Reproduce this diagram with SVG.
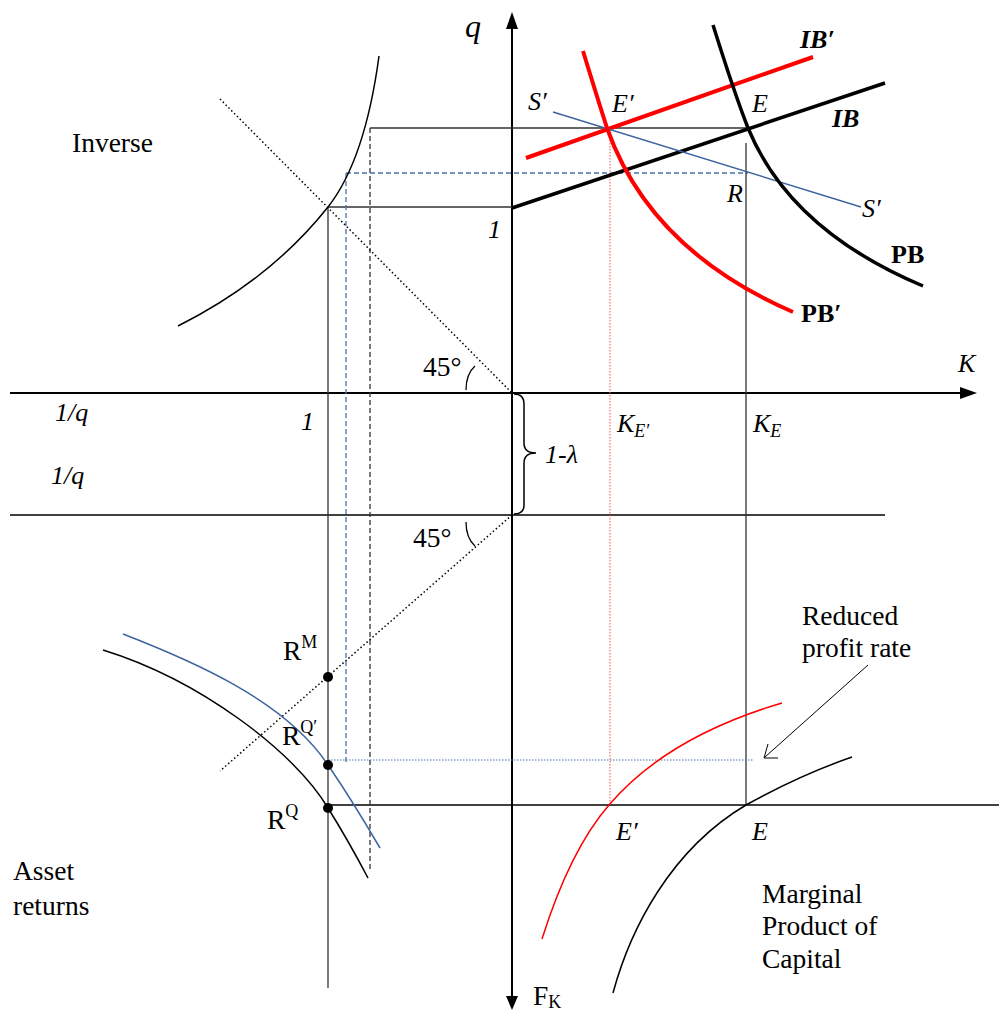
<svg xmlns="http://www.w3.org/2000/svg" width="999" height="1011" viewBox="0 0 999 1011">
<style>
text{font-family:"Liberation Serif","Times New Roman",serif;font-size:27.5px;fill:#000}
.it{font-style:italic;font-size:26px}
.bd{font-weight:bold;font-size:26px}
.sub{font-size:18px}
.axis{stroke:#000;stroke-width:2;fill:none}
.thin{stroke:#333;stroke-width:1.3;fill:none}
.dash{stroke:#333;stroke-width:1.3;stroke-dasharray:5,3;fill:none}
.bdash{stroke:#4a70a8;stroke-width:1.3;stroke-dasharray:5,3;fill:none}
.bdot{stroke:#4a70a8;stroke-width:1;stroke-dasharray:1.5,1.5;fill:none}
.rdot{stroke:#f05050;stroke-width:1;stroke-dasharray:1.5,1.5;fill:none}
.kdot{stroke:#000;stroke-width:1.5;stroke-dasharray:1.5,2.5;fill:none}
.curve{stroke:#000;stroke-width:1.5;fill:none}
</style>
<rect width="999" height="1011" fill="#fff"/>
<g id="connectors">
  <line class="axis" x1="512" y1="26" x2="512" y2="998"/>
  <polygon points="512,12 506,29 518,29" fill="#000"/>
  <polygon points="512,1010 506,996 518,996" fill="#000"/>
  <line class="axis" x1="10" y1="393" x2="962" y2="393"/>
  <polygon points="977,393 960,387 960,399" fill="#000"/>
  <line class="axis" x1="10" y1="515" x2="885" y2="515" style="stroke-width:1.5"/>
  <line class="axis" x1="328" y1="805" x2="999" y2="805" style="stroke-width:1.5"/>
  <line class="thin" x1="328" y1="207" x2="328" y2="988"/>
  <line class="thin" x1="328" y1="207" x2="512" y2="207"/>
  <line class="thin" x1="370" y1="128" x2="748" y2="128"/>
  <line class="dash" x1="370" y1="128" x2="370" y2="870"/>
  <line class="bdash" x1="346" y1="173" x2="346" y2="765"/>
  <line class="bdash" x1="346" y1="173" x2="748" y2="173"/>
  <line class="thin" x1="746" y1="143" x2="746" y2="805"/>
  <line class="rdot" x1="610" y1="128" x2="610" y2="805"/>
  <line class="bdot" x1="328" y1="760" x2="753" y2="760"/>
  <line class="kdot" x1="220" y1="99" x2="512" y2="393"/>
  <line class="kdot" x1="512" y1="515" x2="220" y2="771"/>
  <path class="thin" d="M466,390 Q466,374 475,366" style="stroke:#000"/>
  <path class="thin" d="M466,522 Q466,538 475,546" style="stroke:#000"/>
  <path d="M514,394 Q524,394 524,404 L524,443 Q524,453 536,453 Q524,453 524,463 L524,505 Q524,514 514,514" fill="none" stroke="#000" stroke-width="1.5"/>
  <line x1="512" y1="208" x2="885" y2="83" stroke="#000" stroke-width="3.5"/>
  <line x1="526" y1="158" x2="813" y2="57" stroke="#ff0000" stroke-width="4"/>
  <line x1="553" y1="112" x2="861" y2="207" stroke="#3e659e" stroke-width="1.5"/>
  <path d="M713,25 Q735,95 748,128 Q790,230 923,286" fill="none" stroke="#000" stroke-width="3.5"/>
  <path d="M583,51 Q598,100 607,128 Q650,250 793,312" fill="none" stroke="#ff0000" stroke-width="4"/>
  <path class="curve" d="M379,56 Q365,160 328,207 Q270,280 178,326"/>
  <path d="M123,634 C190,660 285,700 328,765 Q352,800 380,848" fill="none" stroke="#3e659e" stroke-width="1.5"/>
  <path class="curve" d="M103,650 C200,680 295,752 328,808 Q348,840 368,878"/>
  <path d="M542,939 Q570,850 609,805 Q667,737 782,703" fill="none" stroke="#ff0000" stroke-width="1.5"/>
  <path class="curve" d="M613,993 C630,930 670,850 746,805 Q800,775 852,757"/>
  <line x1="868" y1="665" x2="765" y2="757" stroke="#000" stroke-width="1"/>
  <polyline points="768,744 764,758 778,758" fill="none" stroke="#000" stroke-width="1"/>
</g>
<g id="points">
  <circle cx="328" cy="677" r="5" fill="#000"/>
  <circle cx="328" cy="765" r="5" fill="#000"/>
  <circle cx="328" cy="808" r="5" fill="#000"/>
</g>
<g id="labels">
  <text class="it" x="465" y="37" style="font-size:32px">q</text>
  <text class="it bd" x="800" y="48">IB′</text>
  <text class="it bd" x="832" y="127">IB</text>
  <text class="it" x="752" y="112">E</text>
  <text class="it" x="612" y="112">E′</text>
  <text class="it" x="528" y="110">S′</text>
  <text class="it" x="862" y="217">S′</text>
  <text class="it" x="727" y="202">R</text>
  <text class="it" x="488" y="238">1</text>
  <text class="bd" x="891" y="263">PB</text>
  <text class="bd" x="801" y="322">PB′</text>
  <text class="it" x="958" y="372">K</text>
  <text x="72" y="152">Inverse</text>
  <text x="423" y="376">45°</text>
  <text class="it" x="55" y="421">1/q</text>
  <text class="it" x="51" y="484">1/q</text>
  <text class="it" x="301" y="430">1</text>
  <text class="it" x="617" y="432">K<tspan class="sub" dy="5">E′</tspan></text>
  <text class="it" x="753" y="432">K<tspan class="sub" dy="5">E</tspan></text>
  <text class="it" x="545" y="463">1-λ</text>
  <text x="413" y="547">45°</text>
  <text x="283" y="660">R<tspan class="sub" dy="-12">M</tspan></text>
  <text x="282" y="745">R<tspan class="sub" dy="-12">Q′</tspan></text>
  <text x="267" y="829">R<tspan class="sub" dy="-12">Q</tspan></text>
  <text x="13" y="880">Asset</text>
  <text x="13" y="915">returns</text>
  <text x="802" y="625">Reduced</text>
  <text x="802" y="657">profit rate</text>
  <text class="it" x="616" y="840">E′</text>
  <text class="it" x="752" y="840">E</text>
  <text x="762" y="903">Marginal</text>
  <text x="762" y="935">Product of</text>
  <text x="762" y="968">Capital</text>
  <text x="533" y="1005">F<tspan class="sub" dy="3">K</tspan></text>
</g>
</svg>
